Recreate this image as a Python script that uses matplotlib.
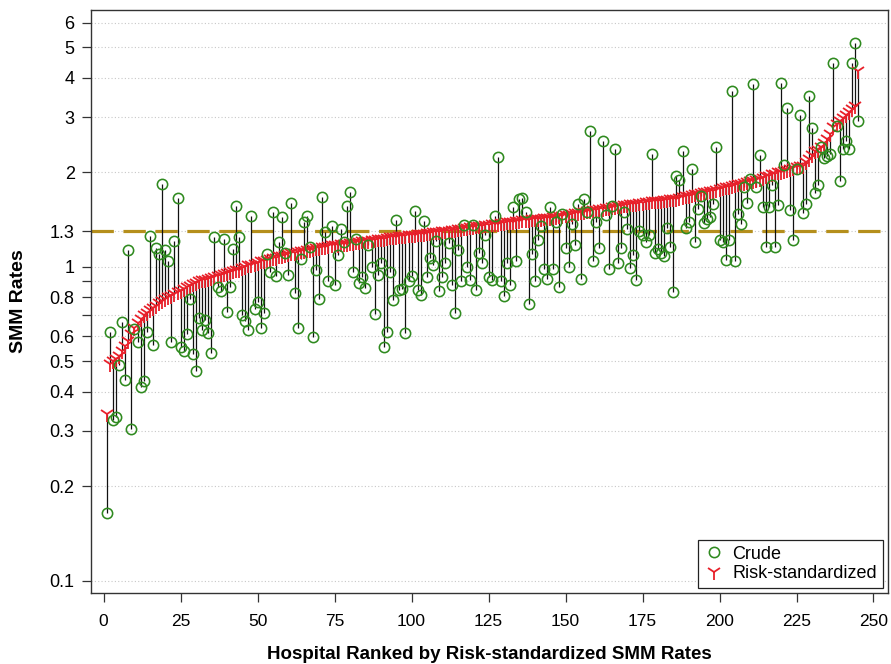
import matplotlib
matplotlib.use("Agg")
import matplotlib.pyplot as plt
from matplotlib.lines import Line2D
from matplotlib.ticker import FixedLocator, FixedFormatter, NullLocator

plt.rcParams['font.family'] = ['Liberation Sans', 'DejaVu Sans']

hospital_rank = list(range(1, 246))

risk_standardized = [
    0.34, 0.49, 0.50, 0.51, 0.52, 0.54, 0.56, 0.58, 0.61, 0.64,
    0.66, 0.68, 0.70, 0.715, 0.73, 0.74, 0.75, 0.765, 0.78, 0.79,
    0.80, 0.81, 0.82, 0.83, 0.84, 0.85, 0.86, 0.87, 0.88, 0.89,
    0.90, 0.905, 0.91, 0.915, 0.92, 0.93, 0.935, 0.94, 0.95, 0.955,
    0.96, 0.97, 0.975, 0.98, 0.99, 1.00, 1.01, 1.015, 1.02, 1.03,
    1.04, 1.045, 1.05, 1.06, 1.065, 1.07, 1.08, 1.085, 1.09, 1.10,
    1.105, 1.11, 1.115, 1.12, 1.125, 1.13, 1.135, 1.14, 1.145, 1.15,
    1.155, 1.16, 1.165, 1.17, 1.17, 1.175, 1.18, 1.18, 1.185, 1.19,
    1.195, 1.20, 1.20, 1.205, 1.21, 1.21, 1.215, 1.22, 1.225, 1.23,
    1.23, 1.235, 1.24, 1.24, 1.245, 1.25, 1.25, 1.255, 1.26, 1.26,
    1.265, 1.27, 1.27, 1.275, 1.28, 1.285, 1.29, 1.29, 1.295, 1.30,
    1.30, 1.305, 1.31, 1.31, 1.315, 1.32, 1.325, 1.33, 1.335, 1.34,
    1.345, 1.35, 1.35, 1.355, 1.36, 1.365, 1.37, 1.37, 1.375, 1.38,
    1.385, 1.39, 1.39, 1.395, 1.40, 1.405, 1.41, 1.41, 1.415, 1.42,
    1.42, 1.425, 1.43, 1.43, 1.435, 1.44, 1.445, 1.45, 1.455, 1.46,
    1.465, 1.47, 1.48, 1.485, 1.49, 1.50, 1.505, 1.51, 1.515, 1.52,
    1.525, 1.53, 1.535, 1.54, 1.55, 1.555, 1.56, 1.565, 1.57, 1.575,
    1.58, 1.585, 1.59, 1.595, 1.60, 1.605, 1.61, 1.615, 1.62, 1.62,
    1.625, 1.63, 1.63, 1.64, 1.645, 1.65, 1.66, 1.67, 1.675, 1.685,
    1.69, 1.70, 1.71, 1.72, 1.725, 1.735, 1.74, 1.75, 1.76, 1.77,
    1.78, 1.79, 1.80, 1.81, 1.82, 1.83, 1.84, 1.85, 1.86, 1.87,
    1.88, 1.89, 1.90, 1.92, 1.94, 1.95, 1.97, 1.98, 2.00, 2.01,
    2.02, 2.03, 2.05, 2.06, 2.08, 2.09, 2.10, 2.15, 2.20, 2.27,
    2.33, 2.36, 2.40, 2.48, 2.56, 2.65, 2.78, 2.85, 2.92, 2.98,
    3.05, 3.12, 3.18, 3.25, 4.20,
]

crude = [
    0.164, 0.618, 0.326, 0.333, 0.488, 0.668, 0.437, 1.13, 0.304, 0.633,
    0.574, 0.413, 0.433, 0.622, 1.25, 0.563, 1.15, 1.10, 1.83, 1.13,
    1.04, 0.574, 1.21, 1.66, 0.557, 0.54, 0.61, 0.789, 0.528, 0.465,
    0.686, 0.63, 0.678, 0.615, 0.531, 1.24, 0.865, 0.84, 1.23, 0.72,
    0.861, 1.14, 1.56, 1.24, 0.70, 0.67, 0.63, 1.45, 0.733, 0.77,
    0.64, 0.711, 1.10, 0.966, 1.49, 0.932, 1.20, 1.44, 1.105, 0.94,
    1.60, 0.825, 0.64, 1.06, 1.39, 1.45, 1.16, 0.597, 0.98, 0.789,
    1.67, 1.29, 0.90, 1.35, 0.874, 1.09, 1.32, 1.20, 1.56, 1.73,
    0.96, 1.23, 0.887, 0.93, 0.859, 1.17, 1.00, 0.71, 0.94, 1.03,
    0.555, 0.622, 0.966, 0.785, 1.41, 0.845, 0.85, 0.615, 0.898, 0.936,
    1.51, 0.845, 0.814, 1.40, 0.925, 1.07, 1.01, 1.21, 0.84, 0.927,
    1.03, 1.19, 0.877, 0.711, 1.13, 0.898, 1.36, 1.00, 0.909, 1.36,
    0.845, 1.11, 1.03, 1.26, 0.925, 0.909, 1.45, 2.23, 0.898, 0.805,
    1.03, 0.877, 1.55, 1.04, 1.64, 1.66, 1.50, 0.762, 1.10, 0.90,
    1.22, 1.35, 0.985, 0.916, 1.55, 0.985, 1.39, 0.861, 1.47, 1.15,
    0.995, 1.37, 1.17, 1.58, 0.914, 1.65, 1.50, 2.70, 1.04, 1.39,
    1.15, 2.51, 1.46, 0.983, 1.56, 2.38, 1.03, 1.15, 1.50, 1.32,
    0.99, 1.09, 0.909, 1.30, 1.26, 1.20, 1.26, 2.29, 1.11, 1.14,
    1.11, 1.08, 1.33, 1.16, 0.834, 1.94, 1.89, 2.33, 1.33, 1.39,
    2.05, 1.20, 1.53, 1.68, 1.38, 1.42, 1.44, 1.59, 2.40, 1.22,
    1.20, 1.05, 1.22, 3.62, 1.04, 1.47, 1.37, 1.80, 1.60, 1.90,
    3.83, 1.80, 2.27, 1.55, 1.16, 1.55, 1.82, 1.16, 1.57, 3.86,
    2.11, 3.20, 1.52, 1.22, 2.05, 3.05, 1.48, 1.58, 3.49, 2.77,
    1.72, 1.82, 2.40, 2.22, 2.26, 2.29, 4.47, 2.80, 1.88, 2.37,
    2.51, 2.37, 4.46, 5.17, 2.92,
]

benchmark = 1.3

y_ticks = [0.1, 0.2, 0.3, 0.4, 0.5, 0.6, 0.7, 0.8, 0.9, 1, 1.3, 2, 3, 4, 5, 6]
y_tick_labels = ['0.1', '0.2', '0.3', '0.4', '0.5', '0.6', '', '0.8', '', '1', '1.3', '2', '3', '4', '5', '6']
x_ticks = [0, 25, 50, 75, 100, 125, 150, 175, 200, 225, 250]

GREEN = '#2f8a1f'
RED = '#e8202a'
GOLD = '#b58f1c'

fig = plt.figure(figsize=(8.91, 6.64), dpi=100)
ax = fig.add_axes([0.1018, 0.1065, 0.8948, 0.8785])

ax.set_yscale('log')
ax.set_xlim(-4.2, 254.7)
ax.set_ylim(0.0912, 6.58)

ax.yaxis.set_major_locator(FixedLocator(y_ticks))
ax.yaxis.set_major_formatter(FixedFormatter(y_tick_labels))
ax.yaxis.set_minor_locator(NullLocator())
ax.xaxis.set_major_locator(FixedLocator(x_ticks))
ax.xaxis.set_minor_locator(NullLocator())

ax.grid(True, axis='y', color='#c8c8c8', linestyle=(0, (1, 2)), linewidth=0.8, zorder=0)
ax.set_axisbelow(True)

ax.axhline(benchmark, color=GOLD, linewidth=2.3, linestyle=(0, (7, 3)), zorder=1)

ax.vlines(hospital_rank, crude, risk_standardized, colors='#111111', linewidth=0.9, zorder=2)

ax.plot(hospital_rank, risk_standardized, linestyle='none', marker='1',
        markersize=11, markeredgewidth=1.3, color=RED, zorder=3)
ax.plot(hospital_rank, crude, linestyle='none', marker='o', markersize=7.4,
        markerfacecolor='none', markeredgecolor=GREEN, markeredgewidth=1.15, zorder=4)

for sp in ax.spines.values():
    sp.set_color('#333333')
    sp.set_linewidth(1.0)

ax.tick_params(axis='both', which='major', direction='out', length=6.5, width=0.9,
               color='#333333', labelcolor='black', pad=5)
ax.tick_params(axis='y', labelsize=13)
ax.tick_params(axis='x', labelsize=12.5, pad=8.5)

ax.set_xlabel('Hospital Ranked by Risk-standardized SMM Rates', fontsize=13.5,
              fontweight='bold')
ax.set_ylabel('SMM Rates', fontsize=14, fontweight='bold')
ax.xaxis.set_label_coords(0.5, -0.091)
ax.yaxis.set_label_coords(-0.08, 0.5)

handles = [
    Line2D([], [], linestyle='none', marker='o', markersize=7.4, markerfacecolor='none',
           markeredgecolor=GREEN, markeredgewidth=1.15, label='Crude'),
    Line2D([], [], linestyle='none', marker='1', markersize=11, markeredgewidth=1.3,
           color=RED, label='Risk-standardized'),
]
leg = ax.legend(handles=handles, loc='lower right', fontsize=13, frameon=True,
                fancybox=False, edgecolor='#222222', framealpha=1, borderpad=0.3,
                handletextpad=0.4, handlelength=1.2, borderaxespad=0.3, labelspacing=0.15)
leg.get_frame().set_linewidth(0.9)

fig.savefig('out.png', dpi=100)
